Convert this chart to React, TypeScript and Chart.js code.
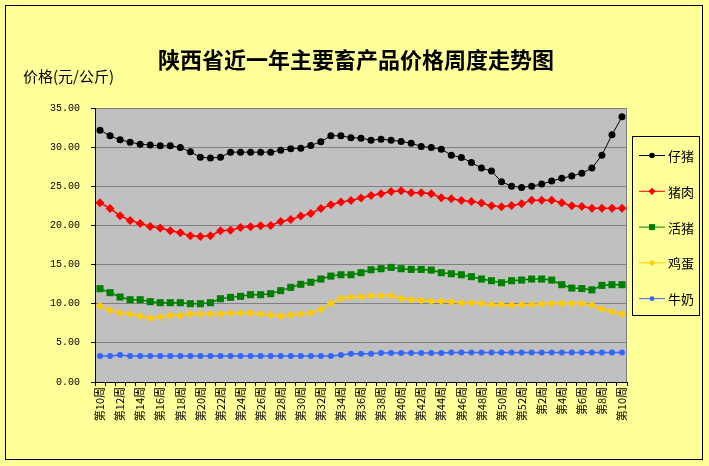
import { useEffect, useRef } from "react"
import { Chart, registerables } from "chart.js"

Chart.register(...registerables)

const weekLabels = [
  "第10周", "第11周", "第12周", "第13周", "第14周", "第15周", "第16周", "第17周", "第18周", "第19周",
  "第20周", "第21周", "第22周", "第23周", "第24周", "第25周", "第26周", "第27周", "第28周", "第29周",
  "第30周", "第31周", "第32周", "第33周", "第34周", "第35周", "第36周", "第37周", "第38周", "第39周",
  "第40周", "第41周", "第42周", "第43周", "第44周", "第45周", "第46周", "第47周", "第48周", "第49周",
  "第50周", "第51周", "第52周", "第1周", "第2周", "第3周", "第4周", "第5周", "第6周", "第7周",
  "第8周", "第9周", "第10周",
]

const pigletPrice = [
  32.17, 31.45, 30.94, 30.64, 30.38, 30.26, 30.17, 30.17, 29.96, 29.4,
  28.72, 28.6, 28.72, 29.36, 29.36, 29.36, 29.36, 29.36, 29.6, 29.8,
  29.87, 30.2, 30.7, 31.45, 31.45, 31.2, 31.15, 30.89, 31.02, 30.89,
  30.72, 30.51, 30.09, 29.96, 29.74, 28.98, 28.68, 28.04, 27.32, 26.94,
  25.57, 25.02, 24.85, 25.02, 25.28, 25.66, 26.04, 26.3, 26.68, 27.32,
  28.98, 31.57, 33.87,
]

const porkPrice = [
  22.9, 22.17, 21.23, 20.64, 20.26, 19.87, 19.66, 19.32, 19.06, 18.68,
  18.6, 18.68, 19.32, 19.4, 19.74, 19.83, 19.96, 20.0, 20.51, 20.77,
  21.19, 21.53, 22.17, 22.64, 23.0, 23.19, 23.5, 23.83, 24.04, 24.34,
  24.43, 24.17, 24.17, 24.04, 23.53, 23.4, 23.19, 23.06, 22.85, 22.51,
  22.38, 22.55, 22.77, 23.23, 23.23, 23.23, 22.9, 22.51, 22.43, 22.21,
  22.21, 22.21, 22.21,
]

const liveHogPrice = [
  11.92, 11.41, 10.85, 10.51, 10.51, 10.26, 10.13, 10.13, 10.13, 10.0,
  10.0, 10.13, 10.64, 10.81, 10.94, 11.15, 11.15, 11.28, 11.67, 12.09,
  12.48, 12.74, 13.15, 13.53, 13.7, 13.7, 13.96, 14.34, 14.47, 14.64,
  14.47, 14.38, 14.38, 14.3, 13.96, 13.83, 13.7, 13.45, 13.15, 12.94,
  12.68, 12.94, 13.02, 13.15, 13.15, 13.02, 12.43, 12.0, 11.94, 11.77,
  12.34, 12.43, 12.43,
]

const eggPrice = [
  9.74, 9.15, 8.8, 8.68, 8.42, 8.16, 8.29, 8.5, 8.5, 8.68,
  8.68, 8.68, 8.72, 8.8, 8.8, 8.8, 8.68, 8.55, 8.42, 8.55,
  8.68, 8.8, 9.27, 10.04, 10.68, 10.85, 10.9, 11.03, 11.03, 11.03,
  10.68, 10.51, 10.43, 10.3, 10.3, 10.21, 10.09, 10.09, 10.04, 9.91,
  9.91, 9.83, 9.91, 9.91, 9.96, 10.04, 10.04, 10.04, 10.04, 9.83,
  9.32, 9.02, 8.68,
]

const milkPrice = [
  3.33, 3.33, 3.46, 3.33, 3.33, 3.33, 3.33, 3.33, 3.33, 3.33,
  3.33, 3.33, 3.33, 3.33, 3.33, 3.33, 3.33, 3.33, 3.33, 3.33,
  3.33, 3.33, 3.33, 3.33, 3.46, 3.6, 3.6, 3.6, 3.72, 3.72,
  3.72, 3.72, 3.72, 3.72, 3.72, 3.76, 3.76, 3.76, 3.76, 3.76,
  3.76, 3.76, 3.76, 3.76, 3.76, 3.76, 3.76, 3.76, 3.76, 3.76,
  3.76, 3.76, 3.76,
]

const yTicks = [0, 5, 10, 15, 20, 25, 30, 35]

const CJK = '"Noto Sans CJK SC", "Noto Sans", sans-serif'

// markers for the hand drawn legend
function drawMarker(ctx: CanvasRenderingContext2D, style: string, x: number, y: number, r: number, color: string) {
  ctx.save()
  ctx.fillStyle = color
  ctx.beginPath()
  if (style === "circle") {
    ctx.arc(x, y, r, 0, Math.PI * 2)
  } else if (style === "rect") {
    ctx.rect(x - r * 0.75, y - r * 0.75, r * 1.5, r * 1.5)
  } else {
    ctx.moveTo(x, y - r)
    ctx.lineTo(x + r, y)
    ctx.lineTo(x, y + r)
    ctx.lineTo(x - r, y)
    ctx.closePath()
  }
  ctx.fill()
  ctx.restore()
}

const framePlugin = {
  id: "frame",
  beforeDraw(chart: any) {
    const { ctx, chartArea: a, width, height } = chart
    ctx.save()
    ctx.fillStyle = "#FFFF99"
    ctx.fillRect(0, 0, width, height)
    ctx.strokeStyle = "#000000"
    ctx.lineWidth = 1
    ctx.strokeRect(5.5, 5.5, 697, 454)
    ctx.fillStyle = "#C0C0C0"
    ctx.fillRect(a.left, a.top, a.right - a.left, a.bottom - a.top)
    ctx.strokeStyle = "#808080"
    ctx.strokeRect(a.left + 0.5, a.top + 0.5, a.right - a.left - 1, a.bottom - a.top)
    ctx.restore()
  },
  afterDraw(chart: any) {
    const { ctx } = chart
    ctx.save()
    // title
    ctx.fillStyle = "#000000"
    ctx.font = `bold 22px ${CJK}`
    ctx.textAlign = "center"
    ctx.textBaseline = "middle"
    ctx.fillText("陕西省近一年主要畜产品价格周度走势图", 356, 60)
    // y axis title
    ctx.font = `15px ${CJK}`
    ctx.textAlign = "left"
    ctx.fillText("价格(元/公斤)", 23, 76)

    // legend
    ctx.strokeStyle = "#000000"
    ctx.lineWidth = 1
    ctx.strokeRect(632.5, 136.5, 67, 179)
    chart.data.datasets.forEach((ds: any, i: number) => {
      const y = 155 + i * 35.8
      ctx.strokeStyle = ds.borderColor
      ctx.lineWidth = 1
      ctx.beginPath()
      ctx.moveTo(639, y + 0.5)
      ctx.lineTo(665, y + 0.5)
      ctx.stroke()
      drawMarker(ctx, ds.pointStyle, 652, y + 0.5, ds.pointRadius * 0.8, ds.borderColor)
      ctx.fillStyle = "#000000"
      ctx.font = `13px ${CJK}`
      ctx.textAlign = "left"
      ctx.textBaseline = "middle"
      ctx.fillText(ds.label, 668, y + 1)
    })
    ctx.restore()
  },
}

export default function App() {
  const canvasRef = useRef<HTMLCanvasElement>(null)

  useEffect(() => {
    document.body.style.margin = "0"
    if (!canvasRef.current) return
    const ctx = canvasRef.current.getContext("2d")
    if (!ctx) return

    const series = [
      { label: "仔猪", data: pigletPrice, color: "#000000", style: "circle", radius: 3.5, width: 1 },
      { label: "猪肉", data: porkPrice, color: "#FF0000", style: "rectRot", radius: 4.5, width: 1.5 },
      { label: "活猪", data: liveHogPrice, color: "#008000", style: "rect", radius: 5, width: 1.5 },
      { label: "鸡蛋", data: eggPrice, color: "#FFCC00", style: "rectRot", radius: 4, width: 1.5 },
      { label: "牛奶", data: milkPrice, color: "#3366FF", style: "circle", radius: 3, width: 1.5 },
    ]

    const chart = new Chart(ctx, {
      type: "line",
      data: {
        labels: weekLabels,
        datasets: series.map((s) => ({
          label: s.label,
          data: s.data,
          borderColor: s.color,
          backgroundColor: s.color,
          borderWidth: s.width,
          pointStyle: s.style,
          pointRadius: s.radius,
          pointBorderWidth: 0,
          pointBackgroundColor: s.color,
          tension: 0,
          fill: false,
        })),
      },
      options: {
        responsive: false,
        animation: false,
        layout: { padding: { left: 0, top: 108, right: 82, bottom: 0 } },
        plugins: {
          legend: { display: false },
          title: { display: false },
          tooltip: { enabled: false },
        },
        scales: {
          x: {
            type: "category",
            offset: true,
            afterFit: (scale: any) => {
              scale.height = 84
            },
            grid: {
              display: true,
              drawOnChartArea: false,
              drawTicks: true,
              tickLength: 4,
              offset: true,
              tickColor: "#000000",
            },
            border: { display: true, color: "#000000", width: 1 },
            ticks: {
              autoSkip: false,
              minRotation: 90,
              maxRotation: 90,
              padding: 1,
              color: "#000000",
              font: { family: CJK, size: 11 },
              callback: (_v: any, i: number) => (i % 2 === 0 ? weekLabels[i] : ""),
            },
          },
          y: {
            min: yTicks[0],
            max: yTicks[yTicks.length - 1],
            afterFit: (scale: any) => {
              scale.width = 95
            },
            afterBuildTicks: (scale: any) => {
              scale.ticks = yTicks.map((v) => ({ value: v }))
            },
            grid: {
              color: "#808080",
              tickColor: "#000000",
              tickLength: 4,
              drawTicks: true,
            },
            border: { display: true, color: "#000000", width: 1 },
            ticks: {
              padding: 11,
              color: "#000000",
              font: { family: '"Liberation Mono", monospace', size: 10 },
              callback: (v: any) => Number(v).toFixed(2),
            },
          },
        },
      },
      plugins: [framePlugin],
    })

    return () => {
      chart.destroy()
    }
  }, [])

  return <canvas ref={canvasRef} width={709} height={466} style={{ display: "block" }} />
}
